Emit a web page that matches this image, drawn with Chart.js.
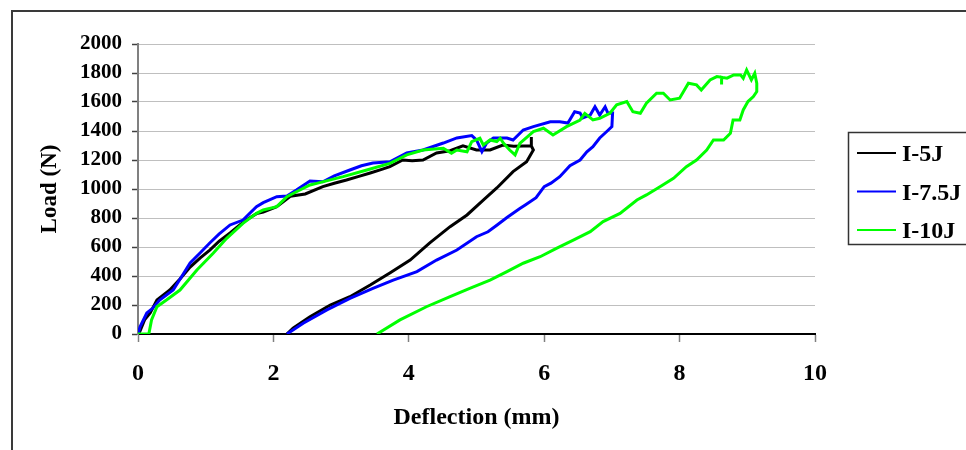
<!DOCTYPE html>
<html>
<head>
<meta charset="utf-8">
<script src="https://cdn.jsdelivr.net/npm/chart.js@4.4.0/dist/chart.umd.min.js"></script>
<style>
  html, body { margin: 0; padding: 0; background: #fff; }
  #wrap { position: relative; width: 966px; height: 450px; }
</style>
</head>
<body>
<div id="wrap"><canvas id="loadChart" width="966" height="450"></canvas></div>
<script>
// Load-deflection curves, loading branch followed by unloading branch
const seriesNames = ['I-5J', 'I-7.5J', 'I-10J'];
const seriesColors = ['#000000', '#0000ff', '#00ff00'];

const i5jDeflection = [0, 0.03, 0.1, 0.18, 0.28, 0.47, 0.62, 0.77, 0.92, 1.06, 1.2, 1.36, 1.5, 1.6, 1.75, 1.85, 2.05, 2.25, 2.47, 2.73, 2.9, 3.08, 3.25, 3.43, 3.6, 3.72, 3.91, 4.05, 4.21, 4.41, 4.61, 4.8, 5.0, 5.2, 5.39, 5.55, 5.69, 5.81, 5.81, 5.81, 5.84, 5.74, 5.54, 5.3, 5.1, 4.86, 4.61, 4.31, 4.02, 3.72, 3.43, 3.13, 2.84, 2.54, 2.29, 2.2];
const i5jLoad = [0, 20, 100, 145, 235, 303, 380, 462, 525, 579, 640, 697, 750, 786, 830, 841, 878, 950, 966, 1016, 1040, 1062, 1085, 1110, 1135, 1154, 1200, 1195, 1200, 1248, 1264, 1297, 1269, 1269, 1303, 1295, 1297, 1297, 1358, 1297, 1269, 1188, 1120, 1007, 924, 821, 740, 628, 510, 421, 338, 257, 200, 119, 41, 0];

const i75jDeflection = [0, 0.03, 0.13, 0.22, 0.32, 0.52, 0.65, 0.77, 0.92, 1.06, 1.2, 1.36, 1.55, 1.75, 1.85, 2.05, 2.2, 2.34, 2.54, 2.73, 2.9, 3.13, 3.3, 3.47, 3.72, 3.97, 4.21, 4.51, 4.71, 4.93, 5.0, 5.08, 5.15, 5.25, 5.45, 5.54, 5.69, 5.84, 6.09, 6.23, 6.35, 6.45, 6.53, 6.57, 6.68, 6.75, 6.82, 6.9, 6.94, 7.01, 7.0, 6.92, 6.82, 6.72, 6.63, 6.53, 6.38, 6.23, 6.1, 6.0, 5.88, 5.72, 5.64, 5.45, 5.3, 5.17, 5.0, 4.71, 4.41, 4.12, 3.77, 3.47, 3.13, 2.79, 2.44, 2.2];
const i75jLoad = [0, 50, 145, 179, 234, 303, 400, 490, 560, 628, 690, 752, 786, 878, 906, 947, 952, 993, 1055, 1050, 1090, 1131, 1160, 1179, 1188, 1248, 1269, 1317, 1352, 1368, 1338, 1257, 1317, 1352, 1352, 1338, 1407, 1430, 1464, 1464, 1455, 1533, 1524, 1490, 1510, 1567, 1510, 1567, 1524, 1524, 1430, 1395, 1352, 1292, 1257, 1200, 1160, 1085, 1040, 1016, 940, 890, 865, 803, 750, 705, 671, 579, 510, 430, 372, 315, 246, 166, 74, 0];

const i10jDeflection = [0, 0.16, 0.2, 0.28, 0.42, 0.62, 0.87, 1.11, 1.31, 1.55, 1.75, 1.85, 2.05, 2.2, 2.34, 2.54, 2.64, 3.03, 3.38, 3.72, 3.97, 4.21, 4.51, 4.63, 4.71, 4.86, 4.93, 5.05, 5.1, 5.2, 5.3, 5.35, 5.4, 5.49, 5.57, 5.64, 5.84, 5.99, 6.13, 6.33, 6.53, 6.6, 6.72, 6.82, 6.97, 7.07, 7.22, 7.31, 7.42, 7.51, 7.66, 7.76, 7.86, 8.0, 8.13, 8.25, 8.32, 8.45, 8.55, 8.62, 8.62, 8.62, 8.7, 8.8, 8.9, 8.94, 8.99, 9.06, 9.11, 9.14, 9.14, 9.09, 9.01, 8.94, 8.89, 8.79, 8.75, 8.65, 8.5, 8.4, 8.25, 8.1, 7.91, 7.71, 7.51, 7.37, 7.12, 6.87, 6.68, 6.43, 6.18, 5.94, 5.69, 5.45, 5.2, 4.9, 4.61, 4.26, 3.87, 3.53];
const i10jLoad = [0, 0, 97, 188, 234, 303, 441, 557, 660, 763, 832, 855, 878, 947, 981, 1028, 1039, 1085, 1131, 1177, 1235, 1269, 1281, 1246, 1269, 1257, 1327, 1350, 1304, 1338, 1327, 1350, 1315, 1269, 1235, 1315, 1396, 1419, 1373, 1430, 1476, 1522, 1476, 1488, 1522, 1580, 1603, 1533, 1522, 1591, 1660, 1660, 1614, 1626, 1729, 1718, 1683, 1752, 1775, 1770, 1720, 1770, 1764, 1787, 1787, 1764, 1821, 1752, 1798, 1729, 1672, 1637, 1603, 1545, 1476, 1476, 1384, 1338, 1338, 1269, 1200, 1154, 1074, 1016, 959, 924, 832, 775, 706, 648, 591, 533, 488, 430, 372, 315, 257, 188, 97, 0];

const xTickValues = [0, 2, 4, 6, 8, 10];
const yTickValues = [0, 200, 400, 600, 800, 1000, 1200, 1400, 1600, 1800, 2000];

const serif = '"Liberation Serif", "Times New Roman", serif';

function toPoints(xs, ys) {
    return xs.map((x, i) => ({ x: x, y: ys[i] }));
}

const curves = [
    [i5jDeflection, i5jLoad],
    [i75jDeflection, i75jLoad],
    [i10jDeflection, i10jLoad]
];

// outer frame and boxed legend on the right
const frameAndLegend = {
    id: 'frameAndLegend',
    afterDraw(chart) {
        const ctx = chart.ctx;
        ctx.save();
        ctx.strokeStyle = '#3a3a3a';
        ctx.lineWidth = 2;
        ctx.beginPath();
        ctx.moveTo(12, 450);
        ctx.lineTo(12, 11);
        ctx.lineTo(966, 11);
        ctx.stroke();

        ctx.strokeStyle = '#333';
        ctx.lineWidth = 1.5;
        ctx.strokeRect(848.5, 132.5, 140, 112);

        ctx.font = 'bold 24px ' + serif;
        ctx.textBaseline = 'middle';
        ctx.fillStyle = '#000';
        chart.data.datasets.forEach((ds, i) => {
            const y = 153 + i * 38.5;
            ctx.strokeStyle = ds.borderColor;
            ctx.lineWidth = 2;
            ctx.beginPath();
            ctx.moveTo(857, y);
            ctx.lineTo(896, y);
            ctx.stroke();
            ctx.fillText(ds.label, 902, y + 2);
        });
        ctx.restore();
    }
};

const ctx = document.getElementById('loadChart').getContext('2d');
new Chart(ctx, {
    type: 'scatter',
    data: {
        datasets: curves.map((c, i) => ({
            label: seriesNames[i],
            data: toPoints(c[0], c[1]),
            showLine: true,
            borderColor: seriesColors[i],
            backgroundColor: seriesColors[i],
            borderWidth: 3,
            pointRadius: 0,
            tension: 0,
            order: 3 - i
        }))
    },
    options: {
        responsive: false,
        animation: false,
        devicePixelRatio: 1,
        layout: {
            padding: { top: 44, right: 151, bottom: 0, left: 0 }
        },
        plugins: {
            legend: { display: false },
            tooltip: { enabled: false }
        },
        scales: {
            x: {
                type: 'linear',
                min: 0,
                max: 10,
                afterFit: (scale) => { scale.height = 116; },
                afterBuildTicks: (scale) => { scale.ticks = xTickValues.map(v => ({ value: v })); },
                grid: {
                    drawOnChartArea: false,
                    drawTicks: true,
                    tickLength: 8,
                    tickColor: '#808080',
                    tickWidth: 1.5
                },
                border: { color: '#000', width: 2 },
                ticks: {
                    color: '#000',
                    padding: 17,
                    callback: (v) => String(v),
                    font: { family: serif, size: 24, weight: 'bold' }
                },
                title: {
                    display: true,
                    text: 'Deflection (mm)',
                    color: '#000',
                    padding: { top: 0, bottom: 18 },
                    font: { family: serif, size: 24, weight: 'bold' }
                }
            },
            y: {
                type: 'linear',
                min: 0,
                max: 2000,
                afterFit: (scale) => { scale.width = 138; },
                afterBuildTicks: (scale) => { scale.ticks = yTickValues.map(v => ({ value: v })); },
                grid: {
                    color: '#bfbfbf',
                    lineWidth: 1,
                    drawTicks: true,
                    tickLength: 6,
                    tickColor: '#404040',
                    tickWidth: 1.5
                },
                border: { color: '#808080', width: 2 },
                ticks: {
                    color: '#000',
                    padding: 10,
                    callback: (v) => String(v),
                    font: { family: serif, size: 21, weight: 'bold' }
                },
                title: {
                    display: true,
                    text: 'Load (N)',
                    color: '#000',
                    padding: { top: 36, bottom: 0 },
                    font: { family: serif, size: 23, weight: 'bold' }
                }
            }
        }
    },
    plugins: [frameAndLegend]
});
</script>
</body>
</html>
